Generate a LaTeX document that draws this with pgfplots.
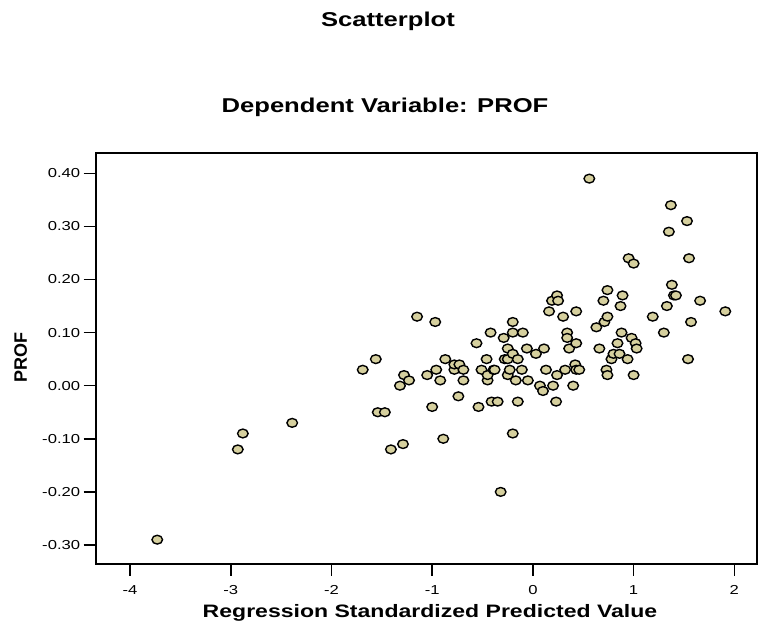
\documentclass[border=0pt]{standalone}
\usepackage{fontspec}
\setmainfont{Liberation Sans}[FakeStretch=1.28]
\newfontfamily\plainsans{Liberation Sans}
\usepackage{pgfplots}
\pgfplotsset{compat=1.18}
\definecolor{dotfill}{RGB}{214,208,158}

\begin{document}
\begin{tikzpicture}
% page frame, 1pt = 1px of the reference
\path[use as bounding box] (-95.7pt,-59pt) rectangle (662.3pt,564pt);
\begin{axis}[
  at={(0,0)}, anchor=south west,
  scale only axis, width=661.3pt, height=410.7pt,
  xmin=-4.341, xmax=2.225, ymin=-0.3358, ymax=0.4377,
  xtick={-4,-3,-2,-1,0,1,2},
  ytick={-0.3,-0.2,-0.1,0,0.1,0.2,0.3,0.4},
  yticklabel style={/pgf/number format/.cd, fixed, fixed zerofill, precision=2},
  xticklabel style={yshift=-6pt},
  /pgf/number format/assume math mode=true,
  tick label style={font=\fontsize{13}{15}\selectfont, black},
  xtick pos=bottom, ytick pos=left,
  tick align=outside, major tick length=12pt,
  axis line style={line width=1.8pt, black},
  tick style={line width=1.6pt, black},
  clip=false,
]
\addplot[only marks, mark=*, mark size=4.4pt,
  mark options={fill=dotfill, draw=black, line width=1.4pt, xscale=1.2}]
  coordinates {
  (-3.73,-0.29) (-2.88,-0.09) (-2.93,-0.12) (-2.39,-0.07)
  (-1.69,0.03) (-1.56,0.05) (-1.54,-0.05) (-1.47,-0.05)
  (-1.41,-0.12) (-1.29,-0.11) (-1.32,0.00) (-1.28,0.02)
  (-1.23,0.01) (-1.15,0.13) (-1.05,0.02) (-1.00,-0.04)
  (-0.97,0.12) (-0.96,0.03) (-0.92,0.01) (-0.89,-0.10)
  (-0.87,0.05) (-0.78,0.03) (-0.78,0.04) (-0.73,0.04)
  (-0.74,-0.02) (-0.69,0.03) (-0.69,0.01) (-0.56,0.08)
  (-0.54,-0.04) (-0.51,0.03) (-0.46,0.05) (-0.45,0.01)
  (-0.45,0.02) (-0.42,0.10) (-0.41,-0.03) (-0.35,-0.03)
  (-0.39,0.03) (-0.38,0.03) (-0.32,-0.20) (-0.29,0.09)
  (-0.28,0.05) (-0.25,0.05) (-0.25,0.07) (-0.25,0.02)
  (-0.23,0.03) (-0.20,0.06) (-0.20,0.10) (-0.20,0.12)
  (-0.20,-0.09) (-0.17,0.01) (-0.15,0.05) (-0.15,-0.03)
  (-0.11,0.03) (-0.10,0.10) (-0.06,0.07) (-0.05,0.01)
  (0.03,0.06) (0.07,0.00) (0.10,-0.01) (0.11,0.07)
  (0.13,0.03) (0.16,0.14) (0.19,0.16) (0.24,0.17)
  (0.25,0.16) (0.20,0.00) (0.23,-0.03) (0.24,0.02)
  (0.30,0.13) (0.32,0.03) (0.34,0.10) (0.34,0.09)
  (0.36,0.07) (0.40,0.00) (0.42,0.04) (0.43,0.08)
  (0.43,0.03) (0.46,0.03) (0.43,0.14) (0.56,0.39)
  (0.63,0.11) (0.66,0.07) (0.70,0.16) (0.71,0.12)
  (0.74,0.13) (0.74,0.18) (0.73,0.03) (0.74,0.02)
  (0.78,0.05) (0.80,0.06) (0.84,0.08) (0.86,0.06)
  (0.87,0.15) (0.88,0.10) (0.89,0.17) (0.94,0.05)
  (0.95,0.24) (0.98,0.09) (1.00,0.23) (1.00,0.02)
  (1.02,0.08) (1.03,0.07) (1.19,0.13) (1.30,0.10)
  (1.33,0.15) (1.35,0.29) (1.37,0.34) (1.38,0.19)
  (1.40,0.17) (1.42,0.17) (1.53,0.31) (1.55,0.24)
  (1.54,0.05) (1.57,0.12) (1.66,0.16) (1.91,0.14)
  };
\end{axis}
% titles and axis labels
\node[font=\fontsize{20}{24}\selectfont\bfseries, anchor=base] at (292.3pt,537.3pt) {Scatterplot};
\node[font=\fontsize{20}{24}\selectfont\bfseries, anchor=base] at (289.3pt,451pt) {Dependent Variable: PROF};
\node[font=\fontsize{18}{22}\selectfont\bfseries, anchor=base] at (334.3pt,-54pt) {Regression Standardized Predicted Value};
\node[font=\plainsans\fontsize{18}{22}\selectfont\bfseries, anchor=base, rotate=90] at (-68.7pt,206.5pt) {PROF};
\end{tikzpicture}
\end{document}
